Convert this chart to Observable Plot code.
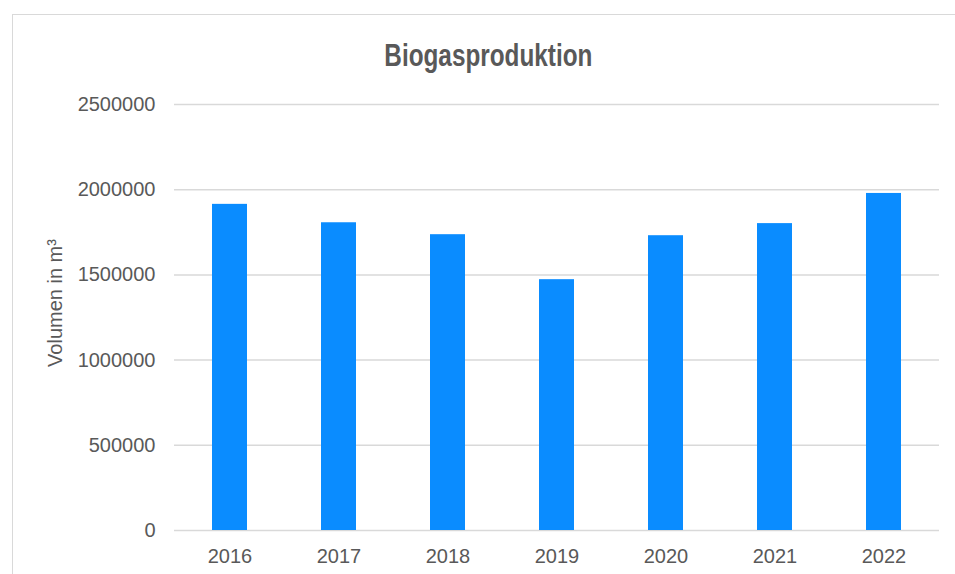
<!DOCTYPE html>
<html>
<head>
<meta charset="utf-8">
<script src="https://cdn.jsdelivr.net/npm/d3@7"></script>
<script src="https://cdn.jsdelivr.net/npm/@observablehq/plot@0.6"></script>
<style>
  html, body { margin: 0; padding: 0; background: #fff; overflow: hidden; }
  #page { position: relative; width: 955px; height: 574px; overflow: hidden; }
  #frame { position: absolute; left: 12px; top: 14px; width: 980px; height: 600px; border: 1.5px solid #d9d9d9; box-sizing: border-box; }
  #title { position: absolute; left: 12px; width: 953px; top: 39px; text-align: center;
    font-family: "Liberation Sans", Arial, sans-serif; transform: scaleX(0.76); transform-origin: 476px 0;
    font-weight: bold; font-size: 32px; line-height: 32px; color: #595959; }
  #ylabel { position: absolute; left: 55px; top: 303px; transform: translate(-50%, -50%) rotate(-90deg);
    white-space: nowrap; font-family: "Liberation Sans", Arial, sans-serif; font-size: 20px; color: #595959; }
  #chart { position: absolute; left: 0; top: 0; }
</style>
</head>
<body>
<div id="page">
  <div id="frame"></div>
  <div id="title">Biogasproduktion</div>
  <div id="ylabel">Volumen in m³</div>
  <div id="chart"></div>
</div>
<script>
const years = ["2016", "2017", "2018", "2019", "2020", "2021", "2022"];
const values = [1914000, 1806000, 1736000, 1472000, 1730000, 1801000, 1978000];
const yTicks = [0, 500000, 1000000, 1500000, 2000000, 2500000];

const data = years.map((year, i) => ({year, value: values[i]}));

const chart = Plot.plot({
  width: 955,
  height: 574,
  marginLeft: 174,
  marginRight: 16,
  marginTop: 104,
  marginBottom: 44,
  style: { background: "transparent", color: "#595959", overflow: "visible" },
  x: { domain: years, paddingInner: 0.683, paddingOuter: 0.34, label: null },
  y: { domain: [0, 2500000], label: null },
  marks: [
    Plot.gridY(yTicks, { stroke: "#d9d9d9", strokeOpacity: 1, strokeWidth: 1.5 }),
    Plot.barY(data, { x: "year", y: "value", fill: "#0a8cff" }),
    Plot.axisY(yTicks, {
      tickSize: 0, tickPadding: 19, tickFormat: d3.format("d"),
      fontSize: 20, fontFamily: "Liberation Sans, Arial, sans-serif", fill: "#595959", label: null
    }),
    Plot.axisX({
      tickSize: 0, tickPadding: 18,
      fontSize: 20, fontFamily: "Liberation Sans, Arial, sans-serif", fill: "#595959", label: null
    })
  ]
});
document.getElementById("chart").appendChild(chart);
</script>
</body>
</html>
